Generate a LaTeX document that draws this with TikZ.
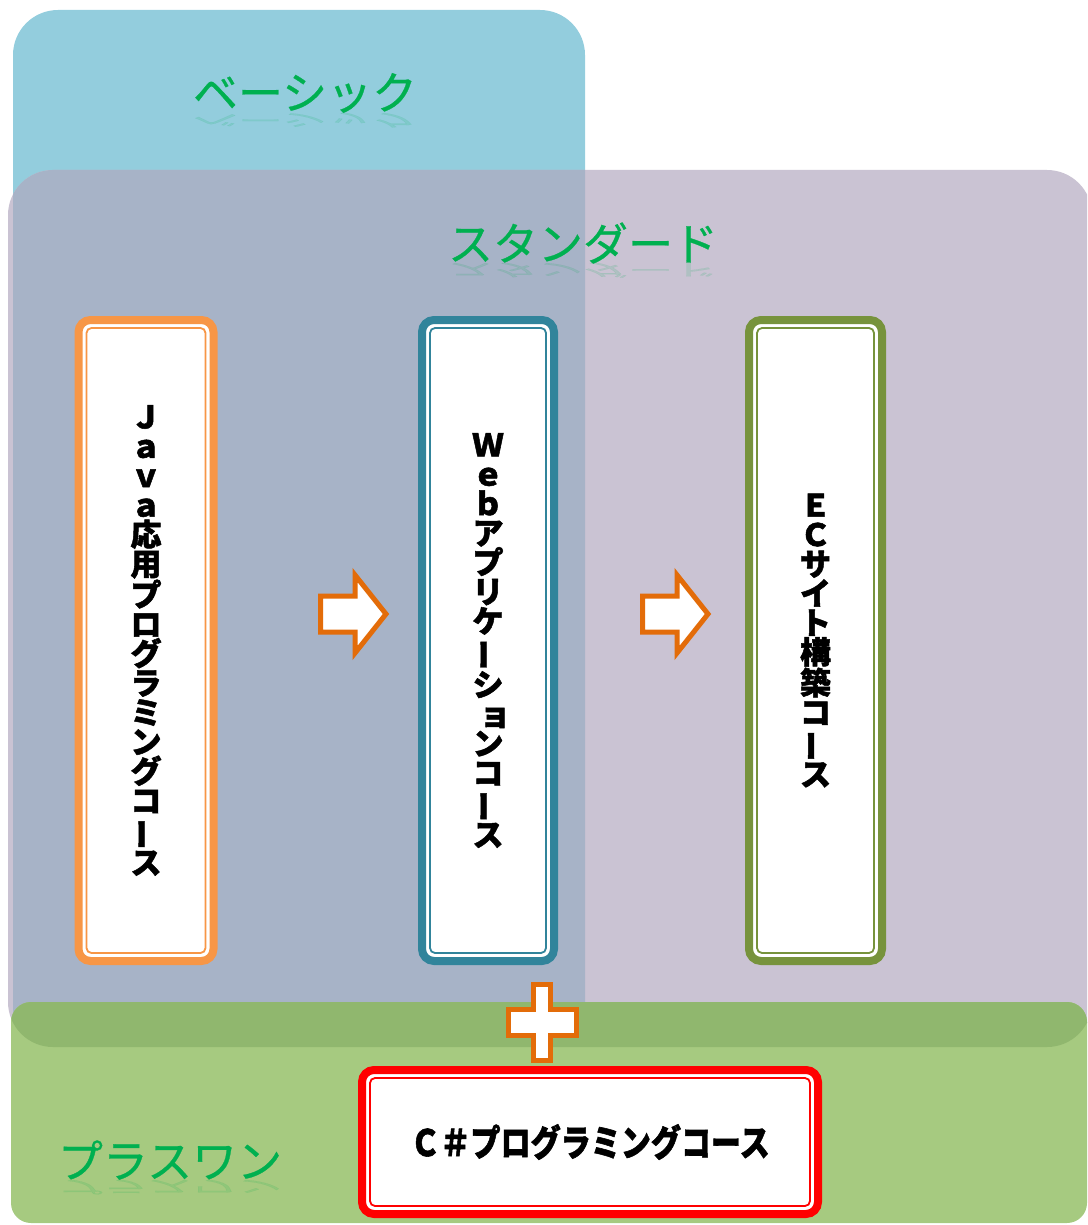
\documentclass[tikz,border=0pt]{standalone}
\usepackage{fontspec}
\newfontfamily\cjk{Noto Sans CJK JP}[FakeBold=0.6]
\newfontfamily\cjkheavy{Noto Sans CJK JP}[FakeBold=1.6]
\definecolor{basicblue}{HTML}{93CDDD}
\definecolor{stdgray}{HTML}{CAC3D3}
\definecolor{stdblue}{HTML}{A7B3C7}
\definecolor{plusgreen}{HTML}{A6CA80}
\definecolor{banddgreen}{HTML}{90B76E}
\definecolor{titlegreen}{HTML}{00B050}
\definecolor{javaorange}{HTML}{F79646}
\definecolor{webteal}{HTML}{31849B}
\definecolor{ecolive}{HTML}{77933C}
\definecolor{csred}{HTML}{FF0000}
\definecolor{arroworange}{HTML}{E36C09}
\newcommand\tatebar{\rotatebox[origin=c]{90}{ー}}
\begin{document}
\begin{tikzpicture}[x=1pt,y=-1pt,
  titletext/.style={font=\cjk\fontsize{45}{48}\selectfont, text=titlegreen, inner sep=0pt},
  reflecttext/.style={titletext, opacity=0.13},
  coursebox/.style={draw=#1, line width=8pt, fill=white, rounded corners=12pt,
    inner sep=0pt, font=\cjkheavy\bfseries\fontsize{31}{29.4}\selectfont, align=center},
  innerline/.style={draw=#1, line width=1.8pt, rounded corners=5pt},
  blockarrow/.style={draw=arroworange, fill=white, line width=5pt, line join=miter}]
\useasboundingbox (0,0) rectangle (1087,1225);
\clip (0,0) rectangle (1087,1225);

% background panels
\path[fill=basicblue, rounded corners=45pt] (13,10) rectangle (585,1060);
\path[fill=stdgray, rounded corners=45pt] (8,170) rectangle (1092,1047);
\begin{scope}
  \clip[rounded corners=45pt] (13,10) rectangle (585,1060);
  \path[fill=stdblue, rounded corners=45pt] (8,170) rectangle (1092,1047);
\end{scope}
\path[fill=plusgreen, rounded corners=20pt] (11,1002) rectangle (1087,1223);
\begin{scope}
  \clip[rounded corners=45pt] (8,170) rectangle (1092,1047);
  \path[fill=banddgreen, rounded corners=20pt] (11,1002) rectangle (1087,1223);
\end{scope}

% titles with faint reflections
\node[titletext] (basic) at (305,93) {ベーシック};
\node[reflecttext] (basicr) at (305,120) {\scalebox{1}[-0.38]{ベーシック}};
\node[titletext] (standard) at (583,243) {スタンダード};
\node[reflecttext] (standardr) at (583,270) {\scalebox{1}[-0.38]{スタンダード}};
\node[titletext] (plusone) at (170,1160) {プラスワン};
\node[reflecttext] (plusoner) at (170,1187) {\scalebox{1}[-0.38]{プラスワン}};

% course boxes
\node[coursebox=javaorange, minimum width=135pt, minimum height=641pt] (java) at (146,640.5)
  {Ｊ\\ａ\\ｖ\\ａ\\応\\用\\プ\\ロ\\グ\\ラ\\ミ\\ン\\グ\\コ\\\tatebar\\ス};
\draw[innerline=javaorange] ([shift={(12,12)}]java.north west) rectangle ([shift={(-12,-12)}]java.south east);

\node[coursebox=webteal, minimum width=132pt, minimum height=641pt] (web) at (488,640.5)
  {Ｗ\\ｅ\\ｂ\\ア\\プ\\リ\\ケ\\\tatebar\\シ\\\kern14ptョ\\ン\\コ\\\tatebar\\ス};
\draw[innerline=webteal] ([shift={(12,12)}]web.north west) rectangle ([shift={(-12,-12)}]web.south east);

\node[coursebox=ecolive, minimum width=133pt, minimum height=641pt] (ec) at (815.5,640.5)
  {Ｅ\\Ｃ\\サ\\イ\\ト\\構\\築\\コ\\\tatebar\\ス};
\draw[innerline=ecolive] ([shift={(12,12)}]ec.north west) rectangle ([shift={(-12,-12)}]ec.south east);

\node[coursebox=csred, minimum width=456pt, minimum height=144pt] (csharp) at (590,1142)
  {\scalebox{0.97}[1.18]{Ｃ＃プログラミングコース}};
\draw[innerline=csred] ([shift={(12,12)}]csharp.north west) rectangle ([shift={(-12,-12)}]csharp.south east);

% block arrows
\draw[blockarrow] (320.5,596) -- (355,596) -- (355,575) -- (386,614) -- (355,653) -- (355,632) -- (320.5,632) -- cycle;
\draw[blockarrow] (642.5,596) -- (677,596) -- (677,575) -- (708,614) -- (677,653) -- (677,632) -- (642.5,632) -- cycle;

% plus sign
\draw[blockarrow] (533.5,984.5) -- (550.5,984.5) -- (550.5,1009.5) -- (576.5,1009.5) -- (576.5,1035.5)
  -- (550.5,1035.5) -- (550.5,1060.5) -- (533.5,1060.5) -- (533.5,1035.5) -- (508.5,1035.5)
  -- (508.5,1009.5) -- (533.5,1009.5) -- cycle;
\end{tikzpicture}
\end{document}
